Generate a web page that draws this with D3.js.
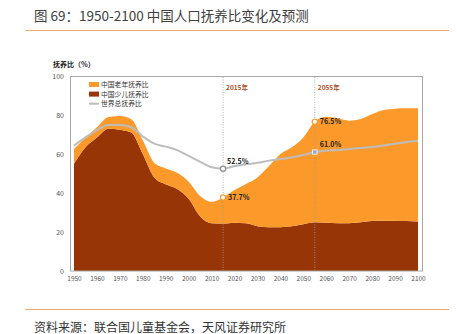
<!DOCTYPE html>
<meta charset="utf-8">
<style>
    body { margin: 0; background: #fff; }
    svg { display: block; }
    text { font-family: "Noto Sans CJK SC", "Noto Sans", sans-serif; }
    .tick text { font-size: 7px; fill: #555; }
    .note { font-size: 7px; font-weight: bold; fill: #222; }
    .legend text { font-size: 6.8px; fill: #333; }
</style>

<script src="https://d3js.org/d3.v7.min.js"></script>

<svg width="457" height="334"></svg>

<script>

    // 5-year steps, 1950-2100
    var years = d3.range(1950, 2101, 5);
    // 中国少儿抚养比 (%)
    var youngRatio = [55, 63.5, 68.5, 73, 72.5, 71, 60, 48, 44.5, 42, 37, 28, 24.5, 24.3, 24.8, 24.5,
        23, 22.4, 22.5, 23, 24, 25, 24.8, 24.5, 24.5, 25, 25.6, 25.8, 25.8, 25.6, 25.4];
    // 中国老年抚养比 (%)
    var oldRatio = [7.6, 5.0, 5.2, 6.0, 7.0, 6.8, 7.0, 7.5, 8.1, 8.4, 8.8, 10.5, 11.0, 13.4, 16.7, 20.1,
        25.0, 31.4, 37.5, 40.4, 44.5, 51.5, 54.3, 53.8, 52.6, 52.9, 54.9, 56.8, 57.4, 57.8, 58.0];
    // 世界总抚养比 (%)
    var worldRatio = [64.3, 68.5, 72.3, 74.9, 74.9, 73.7, 69, 65.3, 63.8, 62, 59, 56, 53.2, 52.5, 53.8, 54.7,
        55.5, 56.6, 57.4, 58.3, 59.5, 61.0, 61.7, 62, 62.6, 63.1, 63.6, 64.4, 65.3, 66.1, 66.8];

    var xTicks = d3.range(1950, 2101, 10);
    var yTicks = [0, 20, 40, 60, 80, 100];
    var markYears = [2015, 2055];

    var svg = d3.select("svg");

    var x = d3.scaleLinear().domain([1950, 2100]).range([74, 418]);
    var y = d3.scaleLinear().domain([0, 100]).range([271, 76]);

    var rows = years.map(function (yr, i) {
        return { year: yr, young: youngRatio[i], old: oldRatio[i], world: worldRatio[i] };
    });

    // title and rules
    svg.append("text")
        .attr("x", 34).attr("y", 20.5)
        .style("font-size", "13.5px").style("fill", "#404040")
        .text("图 69：1950-2100 中国人口抚养比变化及预测");
    svg.append("line").attr("x1", 25).attr("x2", 449).attr("y1", 30.5).attr("y2", 30.5)
        .attr("stroke", "#f4a86a").attr("stroke-width", 1);
    svg.append("line").attr("x1", 25).attr("x2", 449).attr("y1", 309.5).attr("y2", 309.5)
        .attr("stroke", "#f4a86a").attr("stroke-width", 1);
    svg.append("text")
        .attr("x", 34).attr("y", 331.5)
        .style("font-size", "12px").style("fill", "#333")
        .text("资料来源：联合国儿童基金会，天风证券研究所");

    svg.append("text")
        .attr("x", 53).attr("y", 67)
        .style("font-size", "7px").style("font-weight", "bold").style("fill", "#222")
        .text("抚养比（%）");

    // stacked areas
    var stack = d3.stack().keys(["young", "old"]);
    var series = stack(rows);
    var colors = { young: "#983506", old: "#fb9a2b" };

    var area = d3.area()
        .curve(d3.curveMonotoneX)
        .x(function (d) { return x(d.data.year); })
        .y0(function (d) { return y(d[0]); })
        .y1(function (d) { return y(d[1]); });

    svg.append("g")
        .selectAll("path")
        .data(series)
        .enter().append("path")
        .attr("fill", function (d) { return colors[d.key]; })
        .attr("d", area);

    // world line
    var line = d3.line()
        .curve(d3.curveMonotoneX)
        .x(function (d) { return x(d.year); })
        .y(function (d) { return y(d.world); });

    svg.append("path")
        .datum(rows)
        .attr("fill", "none")
        .attr("stroke", "#bdbdbd")
        .attr("stroke-width", 2)
        .attr("d", line);

    // frame
    svg.append("rect")
        .attr("x", 70.5).attr("y", 76.5).attr("width", 352).attr("height", 194.5)
        .attr("fill", "none").attr("stroke", "#a8a8a8").attr("stroke-width", 1);

    // axes
    var xAxis = svg.append("g")
        .attr("transform", "translate(0,271)")
        .call(d3.axisBottom(x).tickValues(xTicks).tickFormat(d3.format("d")).tickSize(0).tickPadding(5));
    xAxis.select(".domain").remove();
    xAxis.selectAll("text").style("font-size", "6.5px");

    var yAxis = svg.append("g")
        .attr("transform", "translate(64,0)")
        .call(d3.axisLeft(y).tickValues(yTicks).tickSize(0).tickPadding(0));
    yAxis.select(".domain").remove();

    // 2015 / 2055 markers
    var marks = svg.append("g");
    markYears.forEach(function (yr) {
        var mx = x(yr);
        marks.append("line")
            .attr("x1", mx).attr("x2", mx).attr("y1", 77).attr("y2", 271)
            .attr("stroke", "#9a9a9a").attr("stroke-width", 0.8)
            .attr("stroke-dasharray", "1,1.5");
        marks.append("text")
            .attr("x", mx + 3).attr("y", 90)
            .style("font-size", "6.5px").style("font-weight", "bold").style("fill", "#b0522a")
            .text(yr + "年");
    });

    var r15 = rows[years.indexOf(2015)], r55 = rows[years.indexOf(2055)];

    function ring(cx, cy, col) {
        marks.append("circle")
            .attr("cx", cx).attr("cy", cy).attr("r", 2.6)
            .attr("fill", "#fff").attr("stroke", col).attr("stroke-width", 1.2);
    }
    ring(x(2015), y(r15.world), "#8f8f8f");
    ring(x(2015), y(r15.young + r15.old), "#fb9a2b");
    ring(x(2055), y(r55.young + r55.old), "#fb9a2b");
    marks.append("rect")
        .attr("x", x(2055) - 2.2).attr("y", y(r55.world) - 2.2)
        .attr("width", 4.4).attr("height", 4.4)
        .attr("fill", "#9fa6c8").attr("stroke", "#fff").attr("stroke-width", 0.8);

    function note(tx, ty, v) {
        marks.append("text").attr("class", "note")
            .attr("x", tx).attr("y", ty)
            .text(d3.format(".1f")(v) + "%");
    }
    note(x(2015) + 4, y(r15.world) - 5, r15.world);
    note(x(2015) + 5, y(r15.young + r15.old) + 2.5, r15.young + r15.old);
    note(x(2055) + 5, y(r55.young + r55.old) + 2.5, r55.young + r55.old);
    note(x(2055) + 5, y(r55.world) - 5, r55.world);

    // legend
    var legend = svg.append("g").attr("class", "legend");
    var items = [
        { label: "中国老年抚养比", color: "#fb9a2b", type: "area" },
        { label: "中国少儿抚养比", color: "#983506", type: "area" },
        { label: "世界总抚养比", color: "#bdbdbd", type: "line" }
    ];
    items.forEach(function (d, i) {
        var ly = 84.5 + i * 9.6;
        if (d.type === "area") {
            legend.append("rect").attr("x", 89).attr("y", ly - 2.5).attr("width", 10).attr("height", 5)
                .attr("fill", d.color);
        } else {
            legend.append("line").attr("x1", 89).attr("x2", 99).attr("y1", ly).attr("y2", ly)
                .attr("stroke", d.color).attr("stroke-width", 2);
        }
        legend.append("text").attr("x", 101).attr("y", ly + 2.4).text(d.label);
    });
</script>
